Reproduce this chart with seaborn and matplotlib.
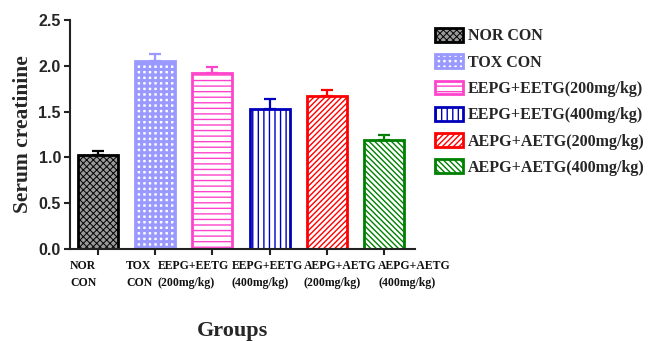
import matplotlib
matplotlib.use("Agg")
import matplotlib.pyplot as plt
import matplotlib.transforms as mtransforms
import numpy as np
import pandas as pd
import seaborn as sns

# Serum creatinine by treatment group (mean and SEM)
groups = ["NOR CON", "TOX CON", "EEPG+EETG(200mg/kg)", "EEPG+EETG(400mg/kg)",
          "AEPG+AETG(200mg/kg)", "AEPG+AETG(400mg/kg)"]
tick_labels = ["NOR\nCON", "TOX\nCON", "EEPG+EETG\n(200mg/kg)", "EEPG+EETG\n(400mg/kg)",
               "AEPG+AETG\n(200mg/kg)", "AEPG+AETG\n(400mg/kg)"]
creatinine_mean = [1.03, 2.05, 1.92, 1.53, 1.67, 1.19]
creatinine_sem = [0.04, 0.08, 0.065, 0.105, 0.07, 0.06]

# Styling for each group's bar
edge_colors = ["#000000", "#9999ff", "#ff44cc", "#0000bb", "#ff0000", "#008000"]
face_colors = ["#9a9a9a", "#ffffff", "#ffffff", "#ffffff", "#ffffff", "#ffffff"]
hatches = ["xxxxx", "+++", "---", "|||", "//////", "\\\\\\\\\\\\"]
hatch_widths = [0.7, 2.2, 1.0, 1.0, 1.0, 1.0]
label_shift_px = [-28, -29, -55, -38, -23, -6]

sns.set_theme(style="ticks")
plt.rcParams["hatch.linewidth"] = 1.0
serif = "Liberation Serif"
sans = "Liberation Sans"


def style_hatch_width(patch, width):
    if hasattr(patch, "set_hatch_linewidth"):
        patch.set_hatch_linewidth(width)


fig = plt.figure(figsize=(6.49, 3.41), dpi=100)
ax = fig.add_axes([70 / 649, 1 - 249 / 341, 345 / 649, 229 / 341])

df = pd.DataFrame({"group": groups, "value": creatinine_mean})
sns.barplot(data=df, x="group", y="value", hue="group", order=groups,
            hue_order=groups, palette=dict(zip(groups, face_colors)),
            width=0.7, errorbar=None, legend=False, ax=ax)

bars = [c.patches[0] for c in ax.containers]
for bar, ec, fc, h, hw in zip(bars, edge_colors, face_colors, hatches, hatch_widths):
    bar.set_facecolor(fc)
    bar.set_edgecolor(ec)
    bar.set_hatch(h)
    bar.set_linewidth(2.0)
    style_hatch_width(bar, hw)

# upward-only error bars in each bar's colour
centers = [b.get_x() + b.get_width() / 2 for b in bars]
for xc, m, s, ec in zip(centers, creatinine_mean, creatinine_sem, edge_colors):
    ax.errorbar(xc, m, yerr=[[0], [s]], fmt="none", ecolor=ec,
                elinewidth=1.6, capsize=4.5, capthick=1.6, zorder=1)

ax.set_ylim(0, 2.5)
ax.set_xlim(-0.49, 5.54)
ax.set_yticks(np.arange(0, 2.51, 0.5))
ax.set_yticklabels([f"{v:.1f}" for v in np.arange(0, 2.51, 0.5)],
                   fontfamily=sans, fontweight="bold", fontsize=11.5)
ax.set_xticks(range(len(groups)))
ax.set_xticklabels([])

# group names under the ticks, left-aligned two-line labels
base = mtransforms.blended_transform_factory(ax.transData, ax.transAxes)
for i, (txt, dx) in enumerate(zip(tick_labels, label_shift_px)):
    off = mtransforms.ScaledTranslation(dx / 100, -11 / 100, fig.dpi_scale_trans)
    ax.text(i, 0, txt, transform=base + off, ha="left", va="top",
            multialignment="left", linespacing=1.6, fontfamily=serif,
            fontweight="bold", fontsize=8.5, color="#111111")

ax.tick_params(axis="both", direction="out", length=4.5, width=1.5,
               color="#222222", pad=2)
for side in ("top", "right"):
    ax.spines[side].set_visible(False)
for side in ("left", "bottom"):
    ax.spines[side].set_linewidth(1.5)
    ax.spines[side].set_color("#222222")

ax.set_ylabel("Serum creatinine", fontfamily=serif, fontweight="bold",
              fontsize=15.5)
ax.yaxis.set_label_coords(-0.107, 0.5)
ax.set_xlabel("Groups", fontfamily=serif, fontweight="bold", fontsize=16)
ax.xaxis.set_label_coords(0.472, -0.315)

leg = fig.legend(handles=bars, labels=groups, loc="upper left",
                 bbox_to_anchor=(435 / 649, 1 - 28 / 341), frameon=False,
                 borderpad=0, borderaxespad=0, handlelength=1.75,
                 handleheight=0.95, handletextpad=0.3, labelspacing=0.62,
                 prop={"family": serif, "weight": "bold", "size": 11.5})
for handle, hw in zip(leg.legend_handles, hatch_widths):
    style_hatch_width(handle, hw)

fig.savefig("out.png", dpi=100)
